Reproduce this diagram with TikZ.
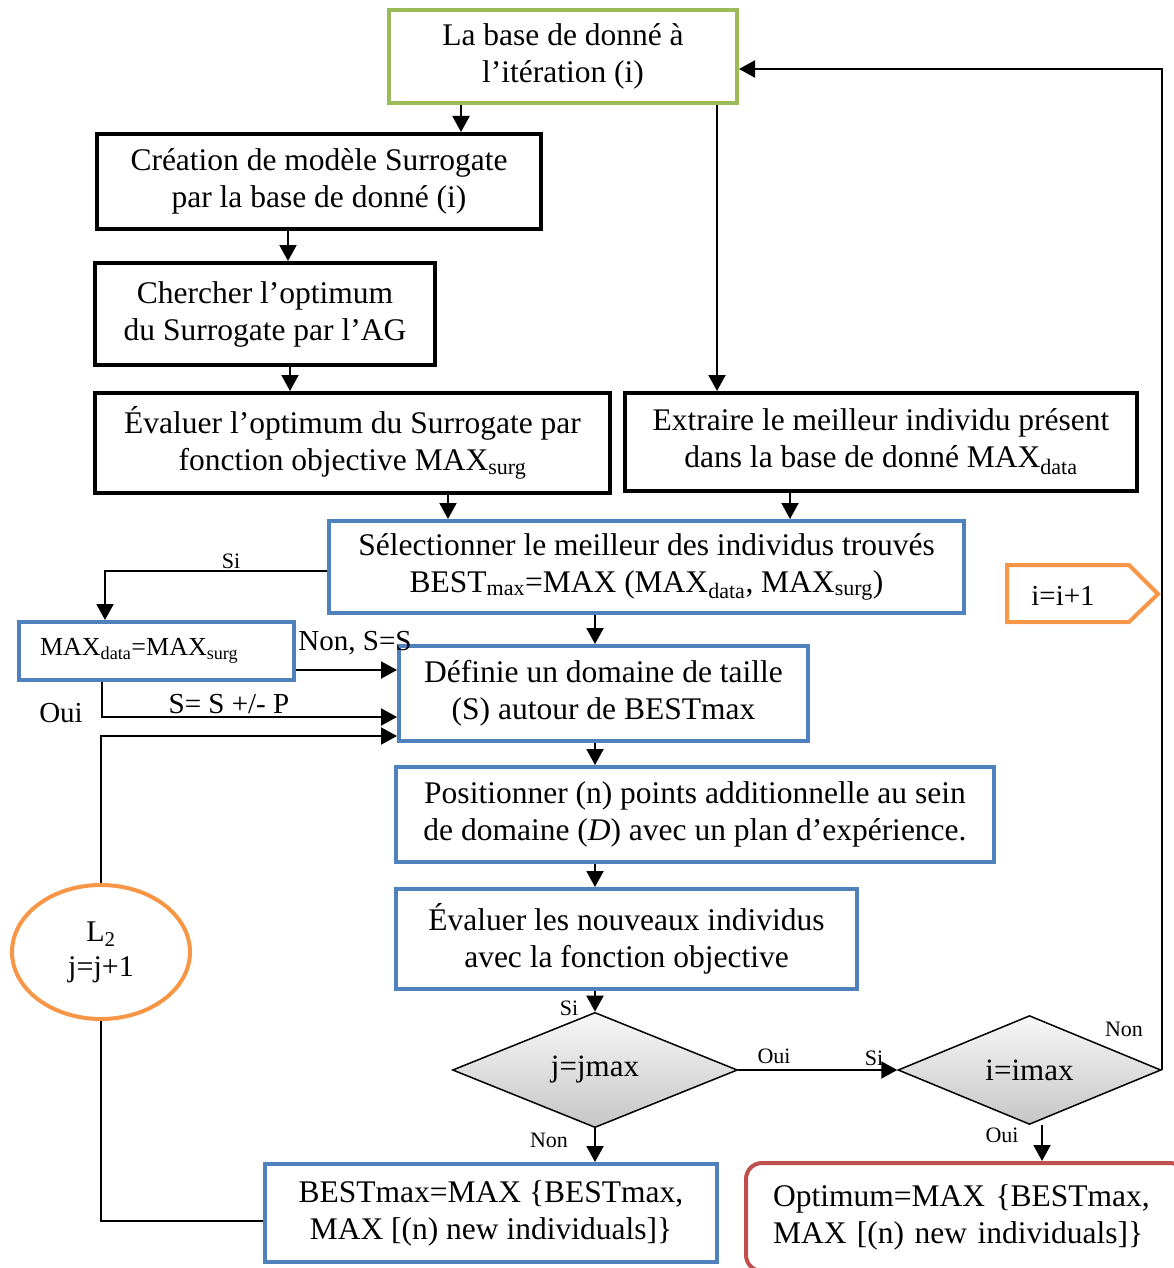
\documentclass[tikz,border=0pt]{standalone}
\usepackage{fontspec}
\setmainfont{Liberation Serif}
\usetikzlibrary{arrows.meta,shapes.geometric}
\definecolor{cgreen}{HTML}{9BBB59}
\definecolor{cblue}{HTML}{4F81BD}
\definecolor{corange}{HTML}{F79646}
\definecolor{cred}{HTML}{C0504D}
\newcommand{\sbs}[1]{\textsubscript{#1}}
\begin{document}
\begin{tikzpicture}[x=1pt,y=-1pt,
  box/.style={draw, line width=4pt, align=center, font=\fontsize{31.5}{37}\selectfont, inner sep=0pt},
  blk/.style={box, draw=black},
  blu/.style={box, draw=cblue},
  arr/.style={line width=2pt, -{Triangle[length=16pt,width=17pt]}},
  ln/.style={line width=2pt},
  lab/.style={font=\fontsize{22}{26}\selectfont, inner sep=0pt},
  labb/.style={font=\fontsize{29}{32}\selectfont, inner sep=0pt},
  dia/.style={diamond, draw, line width=1.5pt, top color=gray!6, bottom color=gray!45, font=\fontsize{31}{36}\selectfont, inner sep=0pt}
]
\useasboundingbox (0,0) rectangle (1174,1268);

% nodes
\node[box, draw=cgreen, minimum width=348, minimum height=93] (db) at (563,56.5) {La base de donné à\\l’itération (i)};
\node[blk, minimum width=444, minimum height=95] (c2) at (319,181.5) {Création de modèle Surrogate\\par la base de donné (i)};
\node[blk, minimum width=340, minimum height=102] (ch) at (265,314) {Chercher l’optimum\\du Surrogate par l’AG};
\node[blk, minimum width=515, minimum height=100] (ev) at (352.5,443) {Évaluer l’optimum du Surrogate par\\fonction objective MAX\sbs{surg}};
\node[blk, minimum width=512, minimum height=98] (ex) at (881,442) {Extraire le meilleur individu présent\\dans la base de donné MAX\sbs{data}};
\node[blu, minimum width=635, minimum height=92] (sel) at (646.5,567) {Sélectionner le meilleur des individus trouvés\\BEST\sbs{max}=MAX (MAX\sbs{data}, MAX\sbs{surg})};
\node[blu, font=\fontsize{26}{30}\selectfont, text width=233, align=left, inner xsep=21, minimum height=58] (mx) at (156.5,651) {MAX\sbs{data}=MAX\sbs{surg}};
\node[blu, minimum width=409, minimum height=95] (def) at (603.5,693.5) {Définie un domaine de taille\\(S) autour de BESTmax};
\node[blu, minimum width=598, minimum height=95] (pos) at (695,814.5) {Positionner (n) points additionnelle au sein\\de domaine (\textit{D}) avec un plan d’expérience.};
\node[blu, minimum width=461, minimum height=100] (evn) at (626.5,939) {Évaluer les nouveaux individus\\avec la fonction objective};
\node[dia, minimum width=285, minimum height=115] (d1) at (595,1070) {j=jmax};
\node[dia, minimum width=263, minimum height=98] (d2) at (1029.5,1070) {i=imax};
\node[blu, minimum width=452, minimum height=98] (b13) at (491,1213) {BESTmax=MAX \{BESTmax,\\MAX [(n) new individuals]\}};
\node[box, draw=cred, rounded corners=16pt, align=left, text width=386, inner xsep=27, minimum height=108] (opt) at (966,1217) {Optimum=MAX \{BESTmax,\\MAX [(n) new individuals]\}};
\node[ellipse, draw=corange, line width=4pt, minimum width=178, minimum height=134, align=center, font=\fontsize{30}{35}\selectfont, inner sep=0pt] (l2) at (101,952) {L\sbs{2}\\j=j+1};
\node[font=\fontsize{29}{32}\selectfont, inner sep=0pt] (inc) at (1063,596) {i=i+1};
\draw[corange, line width=4pt] (1007,565) -- (1129,565) -- (1158,594) -- (1129,622) -- (1007,622) -- cycle;

% labels
\node[lab] (lsi1) at (231,561) {Si};
\node[labb] (lnon1) at (355,643) {Non, S=S};
\node[labb] (lsp) at (229,704) {S= S +/- P};
\node[labb] (loui1) at (61,713) {Oui};
\node[lab] (lsi2) at (569,1008) {Si};
\node[lab] (lnon2) at (549,1140) {Non};
\node[lab] (loui2) at (774,1056) {Oui};
\node[lab] (lsi3) at (874,1058) {Si};
\node[lab] (lnon3) at (1124,1029) {Non};
\node[lab] (loui3) at (1002,1135) {Oui};

% connectors
\draw[arr] (db.south -| 461,0) -- (c2.north -| 461,0);
\draw[arr] (db.south -| 717,0) -- (ex.north -| 717,0);
\draw[arr] (c2.south -| 288,0) -- (ch.north -| 288,0);
\draw[arr] (ch.south -| 290,0) -- (ev.north -| 290,0);
\draw[arr] (ev.south -| 448,0) -- (sel.north -| 448,0);
\draw[arr] (ex.south -| 790,0) -- (sel.north -| 790,0);
\draw[arr] (sel.west |- 0,571) -| (mx.north -| 105,0);
\draw[arr] (mx.east |- 0,670) -- (def.west |- 0,670);
\draw[arr] (mx.south -| 102,0) |- (def.west |- 0,717);
\draw[arr] (l2.north) |- (def.west |- 0,736);
\draw[ln] (b13.west |- 0,1221) -| (l2.south);
\draw[arr] (sel.south -| 595,0) -- (def.north -| 595,0);
\draw[arr] (def.south -| 595,0) -- (pos.north -| 595,0);
\draw[arr] (pos.south -| 595,0) -- (evn.north -| 595,0);
\draw[arr] (evn.south -| 595,0) -- (d1.north);
\draw[arr] (d1.south) -- (b13.north -| 595,0);
\draw[arr] (d1.east) -- (d2.west);
\draw[arr] (d2.south -| 1042,0) -- (opt.north -| 1042,0);
\draw[arr] (d2.east) |- (db.east |- 0,69);
\end{tikzpicture}
\end{document}
